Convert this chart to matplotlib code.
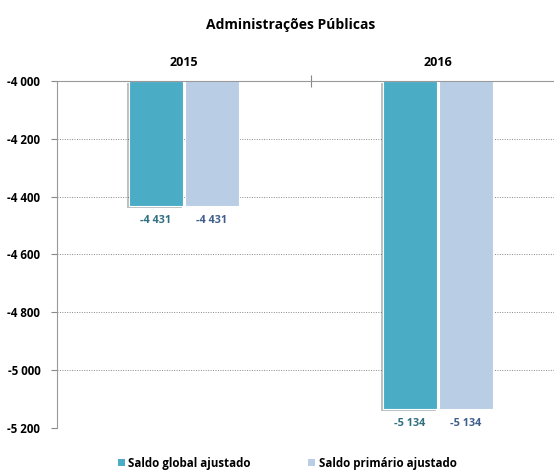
import matplotlib
matplotlib.use("Agg")
import matplotlib.pyplot as plt
import matplotlib.patheffects as pe
from matplotlib.patches import Patch
from matplotlib.ticker import FuncFormatter
import numpy as np

plt.rcParams['font.family'] = ['Open Sans', 'DejaVu Sans']
plt.rcParams['font.weight'] = 'bold'

years = ['2015', '2016']
series = ['Saldo global ajustado', 'Saldo primário ajustado']
global_aj = [-4431, -5134]
primario_aj = [-4431, -5134]
colors = ['#4BACC6', '#B9CDE5']
label_colors = ['#2F6F80', '#3E5F8C']
base = -4000

fig = plt.figure(figsize=(5.54, 4.70), dpi=100)
ax = fig.add_axes([57/554, 1 - 428/470, 508/554, 347/470])

x = np.arange(len(years))
w = 0.216
shadow = [pe.SimplePatchShadow(offset=(-1.2, -1.5), alpha=0.3), pe.Normal()]
for i, (vals, c, lc) in enumerate(zip([global_aj, primario_aj], colors, label_colors)):
    xs = x + (i - 0.5) * (w + 0.004)
    heights = [v - base for v in vals]
    bars = ax.bar(xs, heights, w, bottom=base, color=c, edgecolor='white',
                  linewidth=0.8, zorder=3)
    if i == 0:
        for b in bars:
            b.set_path_effects(shadow)
    for xi, v in zip(xs, vals):
        ax.text(xi, v - 32, f"{v:,}".replace(',', ' '), ha='center', va='top',
                fontsize=7.8, color=lc, fontweight='bold')

ax.set_xlim(-0.5, 1.5)
ax.set_ylim(-5200, -4000)
ax.set_yticks(np.arange(-5200, -3999, 200))
ax.yaxis.set_major_formatter(FuncFormatter(lambda v, p: f"{int(v):,}".replace(',', ' ')))
ax.tick_params(axis='y', labelsize=8.3, length=4, color='#888888', pad=8)
ax.grid(axis='y', linestyle=(0, (1, 1.5)), color='#888888', linewidth=0.7, zorder=0)

ax.xaxis.tick_top()
ax.set_xticks([0.5])
ax.set_xticklabels([])
ax.tick_params(axis='x', length=8, direction='inout', color='#888888')
for xi, yr in zip(x, years):
    ax.text(xi, -4000 + 65, yr, transform=ax.transData, ha='center', va='center',
            fontsize=9, fontweight='bold')

for s in ['right', 'bottom']:
    ax.spines[s].set_visible(False)
ax.spines['top'].set_color('#999999')
ax.spines['left'].set_color('#999999')
ax.spines['top'].set_zorder(5)

fig.text(291/554, 1 - 25/470, 'Administrações Públicas', ha='center', va='center',
         fontsize=10, fontweight='bold')

handles = [Patch(facecolor=c, edgecolor='none') for c in colors]
fig.legend(handles, series, loc='center', bbox_to_anchor=(287/554, 1 - 463/470),
           ncol=2, frameon=False, fontsize=8.3, handlelength=0.6, handleheight=0.6,
           handletextpad=0.3, columnspacing=5.0)

fig.savefig('out.png', dpi=100)
